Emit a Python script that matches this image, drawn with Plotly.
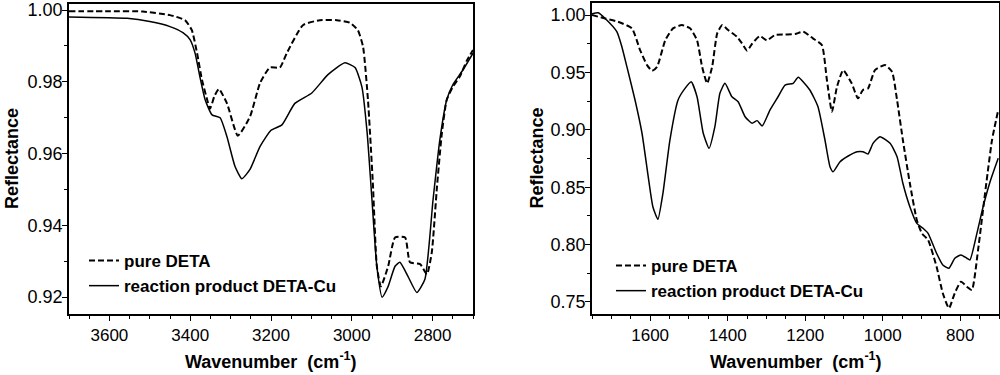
import plotly.graph_objects as go

# ---------- Left panel (C-H / N-H stretching region) ----------
left_wn_pure = [3700, 3600, 3517, 3450, 3413, 3396, 3383, 3371, 3358, 3351, 3340, 3329, 3309, 3282,
                3252, 3227, 3203, 3178, 3161, 3121, 3079, 3037, 3005, 2985, 2972, 2960, 2948, 2938,
                2928, 2910, 2893, 2868, 2856, 2831, 2814, 2802, 2789, 2777, 2765, 2750, 2733, 2715, 2700]
left_pure = [0.9997, 0.9997, 0.9996, 0.9986, 0.9972, 0.9944, 0.9880, 0.9806, 0.9750, 0.9725, 0.9760,
             0.9780, 0.9740, 0.9650, 0.9703, 0.9797, 0.9840, 0.9840, 0.9880, 0.9958, 0.9972, 0.9972,
             0.9965, 0.9944, 0.9897, 0.9750, 0.9520, 0.9286, 0.9230, 0.9286, 0.9366, 0.9366, 0.9297,
             0.9292, 0.9264, 0.9325, 0.9510, 0.9658, 0.9750, 0.9786, 0.9814, 0.9860, 0.9889]

left_wn_cu = [3700, 3556, 3500, 3450, 3418, 3400, 3388, 3376, 3363, 3346, 3326, 3309, 3289, 3272,
              3252, 3227, 3200, 3173, 3141, 3099, 3059, 3017, 2992, 2975, 2962, 2950, 2938, 2925,
              2910, 2893, 2881, 2861, 2839, 2819, 2799, 2782, 2765, 2750, 2725, 2700]
left_cu = [0.9981, 0.9977, 0.9968, 0.9954, 0.9937, 0.9917, 0.9880, 0.9814, 0.9750, 0.9708, 0.9700,
           0.9647, 0.9564, 0.9530, 0.9556, 0.9620, 0.9665, 0.9680, 0.9740, 0.9769, 0.9820, 0.9853,
           0.9840, 0.9786, 0.9658, 0.9470, 0.9286, 0.9200, 0.9230, 0.9286, 0.9297, 0.9258, 0.9213,
           0.9250, 0.9470, 0.9639, 0.9750, 0.9792, 0.9833, 0.9880]

# ---------- Right panel (fingerprint region) ----------
right_wn_pure = [1750, 1716, 1683, 1647, 1626, 1608, 1595, 1582, 1561, 1541, 1518, 1497, 1479, 1466,
                 1453, 1440, 1427, 1414, 1399, 1376, 1363, 1350, 1337, 1317, 1299, 1278, 1252, 1226,
                 1205, 1180, 1157, 1144, 1131, 1118, 1102, 1080, 1064, 1051, 1038, 1020, 994, 976,
                 963, 948, 930, 912, 899, 883, 861, 845, 829, 814, 798, 783, 770, 754, 736, 718, 702]
right_pure = [1.0000, 0.9970, 0.9942, 0.9884, 0.9695, 0.9564, 0.9515, 0.9550, 0.9780, 0.9884, 0.9913,
              0.9884, 0.9780, 0.9550, 0.9405, 0.9550, 0.9840, 0.9913, 0.9870, 0.9811, 0.9753, 0.9690,
              0.9750, 0.9817, 0.9780, 0.9826, 0.9830, 0.9835, 0.9855, 0.9797, 0.9739, 0.9434, 0.9158,
              0.9375, 0.9520, 0.9405, 0.9274, 0.9347, 0.9360, 0.9520, 0.9564, 0.9506, 0.9260, 0.8911,
              0.8534, 0.8214, 0.8098, 0.8040, 0.7807, 0.7576, 0.7445, 0.7578, 0.7677, 0.7633, 0.7605,
              0.7953, 0.8447, 0.8911, 0.9172]

right_wn_cu = [1750, 1734, 1716, 1686, 1673, 1660, 1639, 1621, 1605, 1593, 1580, 1567, 1549, 1528,
               1510, 1494, 1479, 1463, 1448, 1433, 1420, 1407, 1389, 1373, 1355, 1337, 1324, 1311,
               1291, 1270, 1252, 1231, 1218, 1188, 1167, 1149, 1136, 1128, 1110, 1089, 1066, 1051,
               1038, 1025, 1007, 981, 963, 948, 930, 912, 896, 883, 861, 845, 829, 814, 798, 783,
               775, 757, 741, 723, 702]
right_cu = [1.0012, 1.0020, 0.9970, 0.9855, 0.9724, 0.9550, 0.9260, 0.8970, 0.8592, 0.8330, 0.8220,
            0.8447, 0.8911, 0.9260, 0.9361, 0.9419, 0.9288, 0.8970, 0.8839, 0.9027, 0.9318, 0.9405,
            0.9288, 0.9245, 0.9114, 0.9057, 0.9080, 0.9033, 0.9172, 0.9288, 0.9390, 0.9405, 0.9457,
            0.9347, 0.9201, 0.8911, 0.8679, 0.8635, 0.8722, 0.8772, 0.8809, 0.8809, 0.8789, 0.8882,
            0.8940, 0.8882, 0.8766, 0.8534, 0.8330, 0.8185, 0.8142, 0.8098, 0.7924, 0.7822, 0.7794,
            0.7881, 0.7910, 0.7881, 0.7866, 0.8098, 0.8330, 0.8548, 0.8752]

names = ["pure DETA", "reaction product DETA-Cu"]
x_title = "<b>Wavenumber  (cm<sup>-1</sup>)</b>"
y_title = "<b>Reflectance</b>"

FONT = "Liberation Sans, Arial, sans-serif"
dash_line = dict(color="black", width=2, dash="6px,3px", shape="spline", smoothing=0.5)
solid_line = dict(color="black", width=1.5, shape="spline", smoothing=0.5)

fig = go.Figure()
fig.add_trace(go.Scatter(x=left_wn_pure, y=left_pure, mode="lines", name=names[0],
                         line=dash_line, xaxis="x", yaxis="y", legend="legend"))
fig.add_trace(go.Scatter(x=left_wn_cu, y=left_cu, mode="lines", name=names[1],
                         line=solid_line, xaxis="x", yaxis="y", legend="legend"))
fig.add_trace(go.Scatter(x=right_wn_pure, y=right_pure, mode="lines", name=names[0],
                         line=dash_line, xaxis="x2", yaxis="y2", legend="legend2"))
fig.add_trace(go.Scatter(x=right_wn_cu, y=right_cu, mode="lines", name=names[1],
                         line=solid_line, xaxis="x2", yaxis="y2", legend="legend2"))

common = dict(showline=True, linewidth=1.5, linecolor="black", mirror=True, ticks="outside",
              ticklen=5, tickwidth=1.2, tickcolor="black", showgrid=False, zeroline=False,
              automargin=False)
inside = dict(showline=False, ticks="inside", ticklen=5, tickwidth=1.2, tickcolor="black",
              showgrid=False, zeroline=False, showticklabels=False, automargin=False)
xfont = dict(family=FONT, size=17, color="black")
yfont = dict(family=FONT, size=18, color="black")

ly = [1 - 314 / 375, 1 - 4 / 375]
ry = [1 - 314 / 375, 1 - 3 / 375]
lx = [0.069, 0.473]
rx = [0.592, 0.999]
lxr = [3700, 2700]
rxr = [1750, 700]
lyr = [0.9153, 1.0017]
ryr = [0.7395, 1.0105]

fig.update_layout(
    width=1000, height=375,
    margin=dict(l=0, r=0, t=0, b=0, autoexpand=False),
    paper_bgcolor="white", plot_bgcolor="white",
    font=dict(family=FONT, color="black"),
    xaxis=dict(domain=lx, anchor="y", range=lxr, tick0=2800, dtick=200, tickfont=xfont,
               minor=dict(dtick=50, ticks="outside", ticklen=3, tickcolor="black"), **common),
    yaxis=dict(domain=ly, anchor="x", range=lyr, tick0=0.92, dtick=0.02, tickformat=".2f", tickfont=yfont,
               ticklabelstandoff=-4,
               minor=dict(dtick=0.01, ticks="outside", ticklen=3, tickcolor="black"), **common),
    xaxis2=dict(domain=rx, anchor="y2", range=rxr, tick0=800, dtick=200, tickfont=xfont,
                minor=dict(dtick=50, ticks="outside", ticklen=3, tickcolor="black"), **common),
    yaxis2=dict(domain=ry, anchor="x2", range=ryr, tick0=0.75, dtick=0.05, tickformat=".2f", tickfont=yfont,
                ticklabelstandoff=-4,
                minor=dict(dtick=0.025, ticks="outside", ticklen=3, tickcolor="black"), **common),
    xaxis3=dict(overlaying="x", side="top", anchor="y", range=lxr, tick0=2800, dtick=200,
                minor=dict(dtick=50, ticks="inside", ticklen=3, tickcolor="black"), **inside),
    yaxis3=dict(overlaying="y", side="right", anchor="x", range=lyr, tick0=0.92, dtick=0.02,
                minor=dict(dtick=0.01, ticks="inside", ticklen=3, tickcolor="black"), **inside),
    xaxis4=dict(overlaying="x2", side="top", anchor="y2", range=rxr, tick0=800, dtick=200,
                minor=dict(dtick=50, ticks="inside", ticklen=3, tickcolor="black"), **inside),
    yaxis4=dict(overlaying="y2", side="right", anchor="x2", range=ryr, tick0=0.75, dtick=0.05,
                minor=dict(dtick=0.025, ticks="inside", ticklen=3, tickcolor="black"), **inside),
    legend=dict(x=0.084, y=1 - 243 / 375, xanchor="left", yanchor="top",
                bgcolor="rgba(0,0,0,0)", font=dict(family=FONT, size=17, color="black", weight="bold"),
                tracegroupgap=0),
    legend2=dict(x=0.611, y=1 - 248 / 375, xanchor="left", yanchor="top",
                 bgcolor="rgba(0,0,0,0)", font=dict(family=FONT, size=17, color="black", weight="bold"),
                 tracegroupgap=0),
    showlegend=True,
    annotations=[
        dict(text=x_title, xref="paper", yref="paper", x=(lx[0] + lx[1]) / 2, y=1 - 360 / 375,
             showarrow=False, font=dict(family=FONT, size=18, color="black"), xanchor="center", yanchor="middle"),
        dict(text=x_title, xref="paper", yref="paper", x=(rx[0] + rx[1]) / 2, y=1 - 360 / 375,
             showarrow=False, font=dict(family=FONT, size=18, color="black"), xanchor="center", yanchor="middle"),
        dict(text=y_title, xref="paper", yref="paper", x=0.012, y=(ly[0] + ly[1]) / 2, textangle=-90,
             showarrow=False, font=dict(family=FONT, size=18, color="black"), xanchor="center", yanchor="middle"),
        dict(text=y_title, xref="paper", yref="paper", x=0.536, y=(ry[0] + ry[1]) / 2, textangle=-90,
             showarrow=False, font=dict(family=FONT, size=18, color="black"), xanchor="center", yanchor="middle"),
    ],
)

fig.write_html("out.html", config={"displayModeBar": False},
               post_script="document.body.style.margin='0px';")
